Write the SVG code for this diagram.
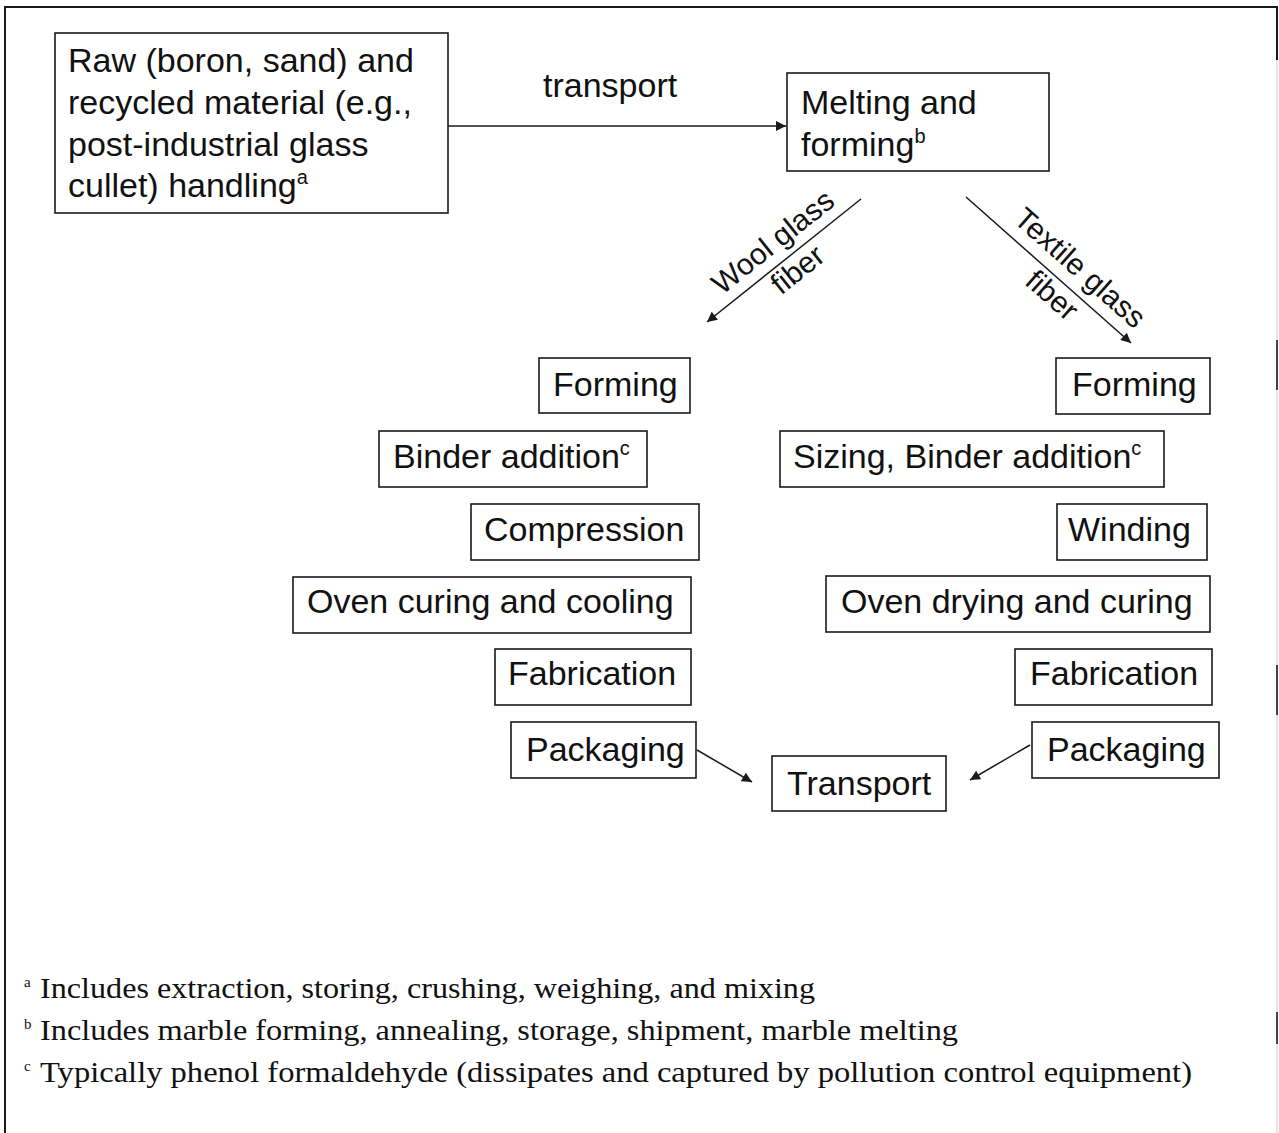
<svg xmlns="http://www.w3.org/2000/svg" width="1279" height="1133" viewBox="0 0 1279 1133">
  <style>
    .box { fill: #ffffff; stroke: #1a1a1a; stroke-width: 1.6; }
    .t { font-family: "Liberation Sans", Arial, sans-serif; font-size: 34px; fill: #111111; }
    .r { font-size: 30px; }
    .sup { font-size: 20px; }
    .fn { font-family: "Liberation Serif", "Times New Roman", serif; font-size: 30px; fill: #111111; }
    .fns { font-family: "Liberation Serif", "Times New Roman", serif; font-size: 15px; fill: #111111; }
    .conn { stroke: #1a1a1a; stroke-width: 1.5; fill: none; marker-end: url(#arr); }
    .frame { stroke: #1a1a1a; stroke-width: 2; fill: none; }
  </style>
  <defs>
    <marker id="arr" viewBox="0 0 10 10" refX="10" refY="5" markerUnits="userSpaceOnUse" markerWidth="13" markerHeight="10" orient="auto">
      <path d="M0,0 L10,5 L0,10 z" fill="#1a1a1a"/>
    </marker>
  </defs>
  <rect width="1279" height="1133" fill="#ffffff"/>

  <g id="frame">
    <path class="frame" d="M5,1133 L5,7 L1277,7 L1277,60"/>
    <line x1="1277" y1="60" x2="1277" y2="1133" stroke="#e6e6e6" stroke-width="2"/>
    <line x1="1277" y1="340" x2="1277" y2="390" stroke="#444" stroke-width="2"/>
    <line x1="1277" y1="665" x2="1277" y2="715" stroke="#444" stroke-width="2"/>
    <line x1="1277" y1="1012" x2="1277" y2="1044" stroke="#444" stroke-width="2"/>
  </g>

  <g id="connectors">
    <line class="conn" x1="448" y1="126" x2="786" y2="126"/>
    <line class="conn" x1="861" y1="199" x2="707" y2="322"/>
    <line class="conn" x1="966" y1="197" x2="1131" y2="343"/>
    <line class="conn" x1="697" y1="750" x2="752" y2="782"/>
    <line class="conn" x1="1030" y1="745" x2="970" y2="780"/>
    <text class="t" x="543" y="97">transport</text>
    <g transform="translate(773,242) rotate(-38.6)">
      <text class="t r" x="0" y="10" text-anchor="middle">Wool glass</text>
      <text class="t r" x="2" y="47" text-anchor="middle">fiber</text>
    </g>
    <g transform="translate(1080,268) rotate(41.5)">
      <text class="t r" x="0" y="10" text-anchor="middle">Textile glass</text>
      <text class="t r" x="-3" y="49" text-anchor="middle">fiber</text>
    </g>
  </g>

  <g id="raw">
    <rect class="box" x="55" y="33" width="393" height="180"/>
    <text class="t" x="68" y="72">Raw (boron, sand) and</text>
    <text class="t" x="68" y="114">recycled material (e.g.,</text>
    <text class="t" x="68" y="156">post-industrial glass</text>
    <text class="t" x="68" y="197">cullet) handling<tspan class="sup" dy="-13">a</tspan></text>
  </g>

  <g id="melting">
    <rect class="box" x="787" y="73" width="262" height="98"/>
    <text class="t" x="801" y="114">Melting and</text>
    <text class="t" x="801" y="156">forming<tspan class="sup" dy="-13">b</tspan></text>
  </g>

  <g id="wool-forming">
    <rect class="box" x="539" y="358" width="151" height="55"/>
    <text class="t" x="553" y="396">Forming</text>
  </g>
  <g id="wool-binder">
    <rect class="box" x="379" y="431" width="268" height="56"/>
    <text class="t" x="393" y="468">Binder addition<tspan class="sup" dy="-13">c</tspan></text>
  </g>
  <g id="wool-compression">
    <rect class="box" x="471" y="504" width="228" height="56"/>
    <text class="t" x="484" y="541">Compression</text>
  </g>
  <g id="wool-oven">
    <rect class="box" x="293" y="577" width="398" height="56"/>
    <text class="t" x="307" y="613">Oven curing and cooling</text>
  </g>
  <g id="wool-fabrication">
    <rect class="box" x="495" y="649" width="196" height="56"/>
    <text class="t" x="508" y="685">Fabrication</text>
  </g>
  <g id="wool-packaging">
    <rect class="box" x="511" y="722" width="185" height="56"/>
    <text class="t" x="526" y="761">Packaging</text>
  </g>

  <g id="transport">
    <rect class="box" x="772" y="756" width="174" height="55"/>
    <text class="t" x="787" y="795">Transport</text>
  </g>

  <g id="textile-forming">
    <rect class="box" x="1056" y="358" width="154" height="56"/>
    <text class="t" x="1072" y="396">Forming</text>
  </g>
  <g id="textile-sizing">
    <rect class="box" x="780" y="431" width="384" height="56"/>
    <text class="t" x="793" y="468">Sizing, Binder addition<tspan class="sup" dy="-13">c</tspan></text>
  </g>
  <g id="textile-winding">
    <rect class="box" x="1057" y="504" width="150" height="56"/>
    <text class="t" x="1068" y="541">Winding</text>
  </g>
  <g id="textile-oven">
    <rect class="box" x="826" y="576" width="384" height="56"/>
    <text class="t" x="841" y="613">Oven drying and curing</text>
  </g>
  <g id="textile-fabrication">
    <rect class="box" x="1015" y="649" width="197" height="56"/>
    <text class="t" x="1030" y="685">Fabrication</text>
  </g>
  <g id="textile-packaging">
    <rect class="box" x="1032" y="722" width="187" height="56"/>
    <text class="t" x="1047" y="761">Packaging</text>
  </g>

  <g id="footnotes">
    <text class="fns" x="24" y="987">a</text>
    <text class="fn" x="40" y="998" textLength="775" lengthAdjust="spacingAndGlyphs">Includes extraction, storing, crushing, weighing, and mixing</text>
    <text class="fns" x="24" y="1029">b</text>
    <text class="fn" x="40" y="1040" textLength="918" lengthAdjust="spacingAndGlyphs">Includes marble forming, annealing, storage, shipment, marble melting</text>
    <text class="fns" x="24" y="1071">c</text>
    <text class="fn" x="40" y="1082" textLength="1152" lengthAdjust="spacingAndGlyphs">Typically phenol formaldehyde (dissipates and captured by pollution control equipment)</text>
  </g>
</svg>
